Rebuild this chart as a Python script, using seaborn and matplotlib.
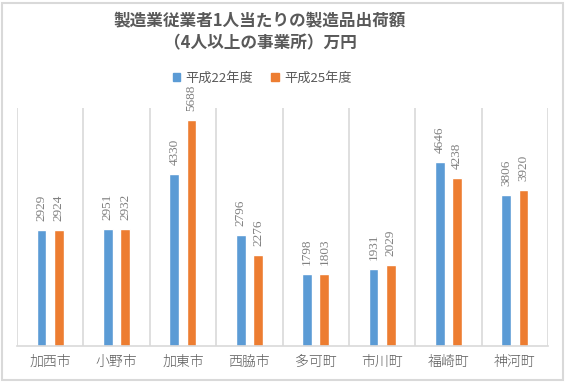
import matplotlib
matplotlib.use("Agg")
import matplotlib.pyplot as plt
import seaborn as sns
import pandas as pd
from matplotlib.patches import Rectangle

categories = ["加西市", "小野市", "加東市", "西脇市", "多可町", "市川町", "福崎町", "神河町"]
h22 = [2929, 2951, 4330, 2796, 1798, 1931, 4646, 3806]
h25 = [2924, 2932, 5688, 2276, 1803, 2029, 4238, 3920]
series = ["平成22年度", "平成25年度"]
title1 = "製造業従業者1人当たりの製造品出荷額"
title2 = "（4人以上の事業所）万円"

sns.set_theme(style="white")
plt.rcParams['font.family'] = ['Noto Sans CJK JP', 'DejaVu Sans']

colors = ["#5B9BD5", "#ED7D31"]
df = pd.DataFrame({
    "市町": categories * 2,
    "値": h22 + h25,
    "年度": [series[0]] * len(categories) + [series[1]] * len(categories),
})

W, H = 566, 382
fig = plt.figure(figsize=(W / 100, H / 100), dpi=100)
fig.patch.set_facecolor("white")
ax = fig.add_axes([17 / W, 1 - 345.5 / H, (548 - 17) / W, 237.5 / H])

sns.barplot(data=df, x="市町", y="値", hue="年度", hue_order=series,
            palette=colors, width=0.52, gap=0.44, saturation=1,
            ax=ax, legend=False)

ax.set_ylim(0, 6000)
ax.set_xlim(-0.5, len(categories) - 0.5)
for s in ["top", "right", "left"]:
    ax.spines[s].set_visible(False)
ax.spines["bottom"].set_color("#D9D9D9")
ax.spines["bottom"].set_linewidth(1.2)
for i in range(len(categories) + 1):
    ax.axvline(i - 0.5, color="#D9D9D9", lw=1.2, zorder=0)

ax.set_yticks([])
ax.set_xlabel("")
ax.set_ylabel("")
ax.tick_params(axis="x", length=0, pad=7, labelsize=10, labelcolor="#595959")
for t in ax.get_xticklabels():
    t.set_fontweight("light")

for cont in ax.containers:
    ax.bar_label(cont, rotation=90, padding=6.5, fontsize=9.5, color="#808080",
                 family=["Liberation Serif", "DejaVu Serif"])

fig.text(260 / W, 1 - 21.5 / H, title1, ha="center", va="center",
         fontsize=12, fontweight="bold", color="#595959")
fig.text(260 / W, 1 - 43 / H, title2, ha="center", va="center",
         fontsize=12, fontweight="bold", color="#595959")

handles = [Rectangle((0, 0), 1, 1, color=c) for c in colors]
fig.legend(handles, series, loc="center", bbox_to_anchor=(262 / W, 1 - 78 / H),
           ncol=2, frameon=False, fontsize=9.5, handlelength=0.6, handleheight=0.6,
           handletextpad=0.4, columnspacing=1.3, labelcolor="#595959",
           borderpad=0.1)

fig.add_artist(Rectangle((2 / W, 2 / H), (W - 5) / W, (H - 5) / H,
                         transform=fig.transFigure, fill=False,
                         edgecolor="#D9D9D9", lw=1.5))

fig.savefig("out.png", dpi=100)
